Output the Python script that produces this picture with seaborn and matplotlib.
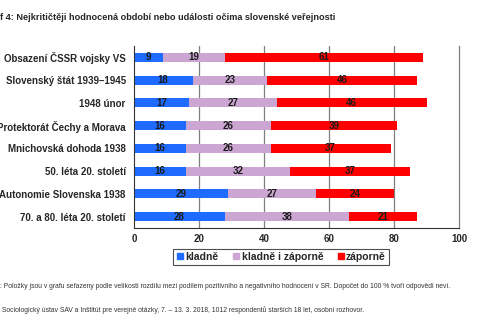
import numpy as np
import pandas as pd
import matplotlib
matplotlib.use("Agg")
import matplotlib.pyplot as plt
import seaborn as sns
from matplotlib.lines import Line2D

categories = ["Obsazení ČSSR vojsky VS", "Slovenský štát 1939–1945", "1948 únor",
              "Protektorát Čechy a Morava", "Mnichovská dohoda 1938",
              "50. léta 20. století", "Autonomie Slovenska 1938",
              "70. a 80. léta 20. století"]
kladne = [9, 18, 17, 16, 16, 16, 29, 28]
oboje = [19, 23, 27, 26, 26, 32, 27, 38]
zaporne = [61, 46, 46, 39, 37, 37, 24, 21]
series_names = ["kladně", "kladně i záporně", "záporně"]
colors = ["#1F6BFF", "#CCA6D2", "#FF0000"]
xticks = [0, 20, 40, 60, 80, 100]
title = "f 4: Nejkritičtěji hodnocená období nebo události očima slovenské veřejnosti"
note1 = ": Položky jsou v grafu seřazeny podle velikosti rozdílu mezi podílem pozitivního a negativního hodnocení v SR. Dopočet do 100 % tvoří odpovědi neví."
note2 = " Sociologický ústav SAV a Inštitút pre verejné otázky, 7. – 13. 3. 2018, 1012 respondentů starších 18 let, osobní rozhovor."

sns.set_style("white")
plt.rcParams["font.family"] = ["Liberation Sans", "DejaVu Sans"]

df = pd.DataFrame({"cat": categories, "k": kladne, "o": oboje, "z": zaporne})
df["c1"] = df["k"]
df["c2"] = df["k"] + df["o"]
df["c3"] = df["k"] + df["o"] + df["z"]

fig = plt.figure(figsize=(4.8, 3.23), dpi=100)
ax = fig.add_axes([134/480, 1-228/323, 325/480, (228-46)/323])

for x in [20, 40, 60, 80]:
    ax.axvline(x, color="#7f7f7f", lw=0.9, zorder=0)

for col, c in zip(["c3", "c2", "c1"], colors[::-1]):
    sns.barplot(data=df, x=col, y="cat", orient="h", color=c, width=0.4,
                saturation=1, ax=ax, linewidth=0, order=categories, zorder=2)

# value labels
for i, row in df.iterrows():
    starts = [0, row["c1"], row["c2"]]
    vals = [row["k"], row["o"], row["z"]]
    for s, v in zip(starts, vals):
        ax.text(s + v/2, i, str(v), ha="center", va="center", zorder=5,
                fontsize=7, fontweight="bold", color="#1a1a1a")

ax.set_xlim(0, 100)
ax.set_ylim(7.5, -0.5)
ax.set_xticks(xticks)
ax.set_xticklabels([str(t) for t in xticks], fontsize=7, fontweight="bold")
ax.set_yticks(range(len(categories)))
ax.set_yticklabels(categories, fontsize=7, fontweight="bold")
ax.tick_params(axis="y", which="major", length=0, pad=6)
ax.set_yticks(np.arange(-0.5, 8, 1), minor=True)
ax.tick_params(axis="y", which="minor", length=3, width=0.8, color="#333333", direction="out")
ax.tick_params(axis="x", which="major", length=3, width=0.8, color="#333333",
               direction="inout", pad=3)
ax.set_xlabel("")
ax.set_ylabel("")
ax.spines["top"].set_visible(False)
ax.spines["right"].set_color("#7f7f7f")
ax.spines["right"].set_linewidth(0.9)
ax.spines["left"].set_color("#333333")
ax.spines["bottom"].set_color("#333333")
ax.spines["left"].set_linewidth(0.8)
ax.spines["bottom"].set_linewidth(0.8)

handles = [Line2D([], [], marker="s", linestyle="", markersize=4.5, color=c) for c in colors]
leg = fig.legend(handles, series_names, loc="center", bbox_to_anchor=(281/480, 1-257/323),
                 ncol=3, frameon=True, fancybox=False, edgecolor="#222222",
                 prop={"size": 7.5, "weight": "bold"}, handletextpad=0.1,
                 columnspacing=1.3, borderpad=0.3, handlelength=0.8)
leg.get_frame().set_linewidth(0.8)

fig.text(0, 1-17/323, title, fontsize=6.6, fontweight="bold", ha="left", va="center")
fig.text(0, 1-286/323, note1, fontsize=4.85, ha="left", va="center", color="#333333")
fig.text(0, 1-310/323, note2, fontsize=4.85, ha="left", va="center", color="#333333")

fig.savefig("out.png", dpi=100)
